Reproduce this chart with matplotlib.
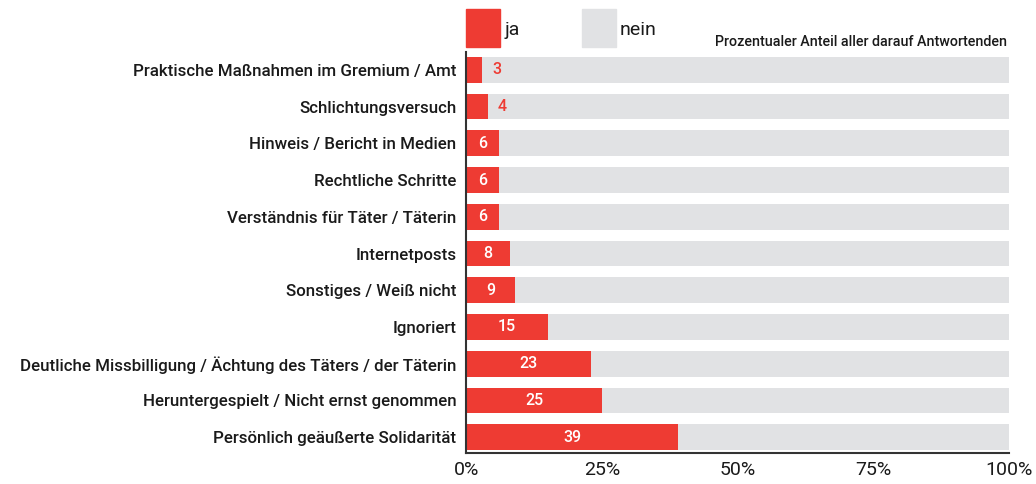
import matplotlib.pyplot as plt
from matplotlib.patches import Rectangle

plt.rcParams['font.family'] = ['Roboto', 'DejaVu Sans']

categories = [
    "Praktische Maßnahmen im Gremium / Amt",
    "Schlichtungsversuch",
    "Hinweis / Bericht in Medien",
    "Rechtliche Schritte",
    "Verständnis für Täter / Täterin",
    "Internetposts",
    "Sonstiges / Weiß nicht",
    "Ignoriert",
    "Deutliche Missbilligung / Ächtung des Täters / der Täterin",
    "Heruntergespielt / Nicht ernst genommen",
    "Persönlich geäußerte Solidarität",
]
ja = [3, 4, 6, 6, 6, 8, 9, 15, 23, 25, 39]
nein = [100 - v for v in ja]
xticks = [0, 25, 50, 75, 100]
xticklabels = ["0%", "25%", "50%", "75%", "100%"]

RED = "#EE3B33"
GREY = "#E1E2E4"
TXT = "#1a1a1a"

fig = plt.figure(figsize=(10.36, 4.84), dpi=100)
ax = fig.add_axes([0.45, 0.064, 0.524, 0.829])

y = list(range(len(categories)))[::-1]
ax.barh(y, ja, height=0.7, color=RED)
ax.barh(y, nein, left=ja, height=0.7, color=GREY)

for yi, v in zip(y, ja):
    if v >= 5:
        ax.text(v / 2, yi, str(v), ha="center", va="center", color="white",
                fontsize=11.5, fontweight="medium")
    else:
        ax.text(v + 2.6, yi, str(v), ha="center", va="center", color=RED,
                fontsize=11.5, fontweight="medium")

ax.set_yticks(y)
ax.set_yticklabels(categories, fontsize=12.2, color=TXT, fontweight="medium")
ax.set_xticks(xticks)
ax.set_xticklabels(xticklabels, fontsize=14, color=TXT)
ax.tick_params(axis="both", length=0)
ax.tick_params(axis="y", pad=7)
ax.tick_params(axis="x", pad=6)
ax.set_xlim(0, 100)
ax.set_ylim(-0.43, 10.49)
for s in ["top", "right"]:
    ax.spines[s].set_visible(False)
for s in ["left", "bottom"]:
    ax.spines[s].set_color("#333333")
    ax.spines[s].set_linewidth(1.5)

# legend
fig.add_artist(Rectangle((466 / 1036, 1 - 47 / 484), 34 / 1036, 38 / 484,
                         transform=fig.transFigure, color=RED))
fig.text(505 / 1036, 1 - 30 / 484, "ja", fontsize=14, va="center", color=TXT)
fig.add_artist(Rectangle((582 / 1036, 1 - 47 / 484), 34 / 1036, 38 / 484,
                         transform=fig.transFigure, color=GREY))
fig.text(620 / 1036, 1 - 30 / 484, "nein", fontsize=14, va="center", color=TXT)
fig.text(1007 / 1036, 1 - 42 / 484, "Prozentualer Anteil aller darauf Antwortenden",
         fontsize=10.3, ha="right", va="center", color=TXT, fontweight="medium")

fig.savefig("out.png", dpi=100)
